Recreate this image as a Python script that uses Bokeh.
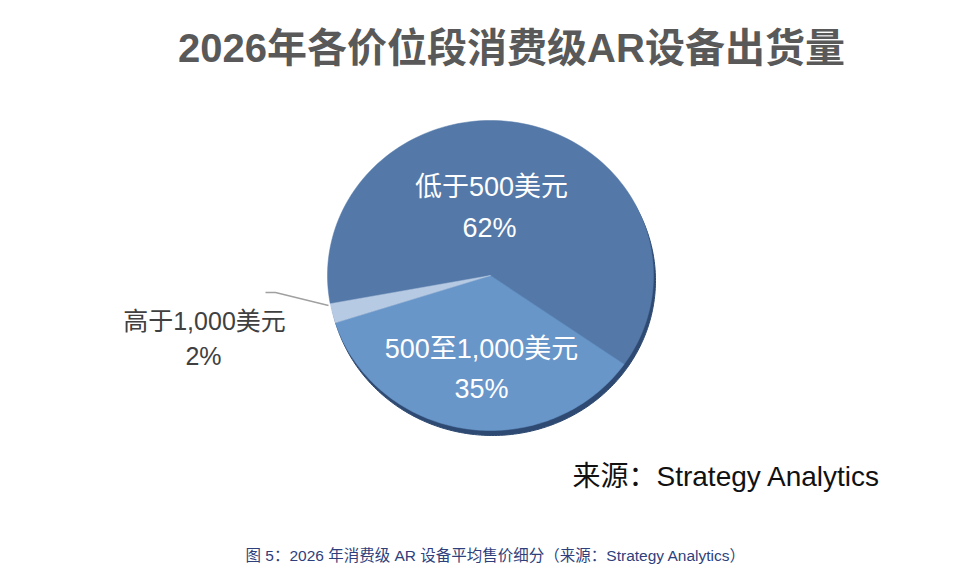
import numpy as np
from bokeh.plotting import figure
from bokeh.models import Range1d, ColumnDataSource
from bokeh.embed import file_html
from bokeh.resources import INLINE
from bokeh.core.properties import value

# ---- data ----
title = "2026年各价位段消费级AR设备出货量"
categories = ["低于500美元", "500至1,000美元", "高于1,000美元"]
shares = [62, 35, 2]
colors = ["#5479A8", "#6896C9", "#B6CAE4"]
source_note = "来源：Strategy Analytics"
caption = "图 5：2026 年消费级 AR 设备平均售价细分（来源：Strategy Analytics）"

# ---- layout (styles/positions) ----
W, H = 948, 571
FONT = "'Liberation Sans', 'Noto Sans CJK SC', sans-serif"
cx, cy, rx, ry = 490, 275, 163, 155
start_deg = 190.5  # slices run clockwise from here

p = figure(width=W, height=H, x_range=Range1d(0, W), y_range=Range1d(H, 0),
           output_backend="svg", toolbar_location=None, min_border=0)
p.axis.visible = False
p.grid.visible = False
p.outline_line_color = None
p.background_fill_color = "white"
p.border_fill_color = "white"

# 3D rim behind pie
t = np.linspace(0, 2 * np.pi, 360)
p.patch(x=cx + 2 + rx * np.cos(t), y=cy + 5 - ry * np.sin(t),
        fill_color="#2E4A72", line_color="#2E4A72")

fr = np.array(shares, dtype=float) / sum(shares)
ends = np.deg2rad(start_deg) - 2 * np.pi * np.cumsum(fr)
starts = ends + 2 * np.pi * fr
xs, ys = [], []
for a0, a1 in zip(starts, ends):
    tt = np.linspace(a0, a1, 120)
    xs.append([cx] + list(cx + rx * np.cos(tt)))
    ys.append([cy] + list(cy - ry * np.sin(tt)))
src = ColumnDataSource(dict(xs=xs, ys=ys, color=colors, cat=categories))
p.patches("xs", "ys", source=src, fill_color="color", line_color="color", line_width=0.5)

# labels
name_pos = [(491, 186), (481, 348), (204, 320)]
pct_pos = [(489, 227), (481, 388), (203, 355)]
label_colors = ["white", "white", "#404040"]
label_sizes = ["27px", "27px", "25px"]
pct_text = [f"{s}%" for s in shares]
lab = ColumnDataSource(dict(
    nx=[q[0] for q in name_pos], ny=[q[1] for q in name_pos],
    px=[q[0] for q in pct_pos], py=[q[1] for q in pct_pos],
    name=categories, pct=pct_text, c=label_colors, fs=label_sizes))
p.text(x="nx", y="ny", text="name", source=lab, text_color="c",
       text_font=value(FONT), text_font_size="fs",
       text_align="center", text_baseline="middle")
p.text(x="px", y="py", text="pct", source=lab, text_color="c",
       text_font=value(FONT), text_font_size="fs",
       text_align="center", text_baseline="middle")

# leader line for small slice
p.line(x=[265, 275, 328], y=[292, 292, 305], line_color="#A0A0A0", line_width=1.3)

# title
p.text(x=[511], y=[47], text=[title], text_font=value(FONT), text_font_size="40px",
       text_font_style="bold", text_color="#595959",
       text_align="center", text_baseline="middle")

# source note
p.text(x=[572], y=[476], text=[source_note], text_font=value(FONT),
       text_font_size="28px", text_color="#111111",
       text_align="left", text_baseline="middle")

# caption
p.text(x=[245], y=[555], text=[caption], text_font=value(FONT),
       text_font_size="15.5px", text_color="#2F3F7C",
       text_align="left", text_baseline="middle")

open("out.html", "w").write(file_html(p, INLINE))
